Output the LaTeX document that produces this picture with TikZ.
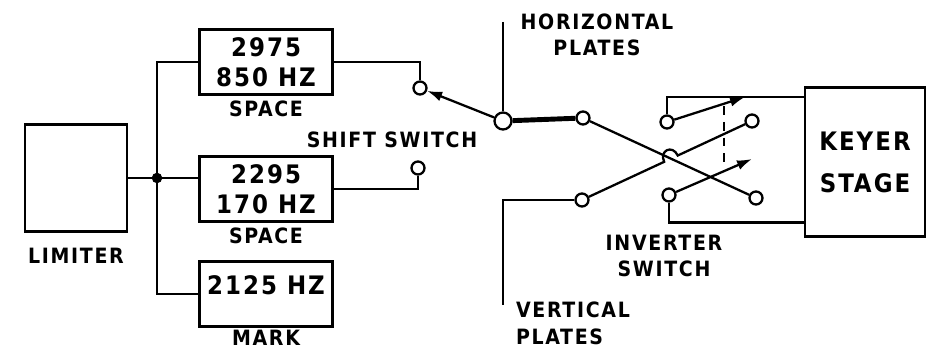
\documentclass[tikz,border=0pt]{standalone}
\usepackage{fontspec}
\newfontfamily\hand{DejaVu Sans Condensed}[LetterSpace=8]
\usepackage{tikz}
\usetikzlibrary{positioning,arrows.meta,calc}
\tikzset{
  unit/.style={draw, line width=1.3pt, align=center, font=\hand\bfseries\fontsize{14.5}{17}\selectfont},
  filter/.style={unit, minimum width=2.66cm, minimum height=1.3cm},
  contact/.style={circle, draw, line width=1.3pt, fill=white, minimum size=2.6mm, inner sep=0pt},
  caption/.style={align=center, inner sep=1pt, font=\hand\bfseries\fontsize{12}{15}\selectfont},
  wire/.style={line width=1.3pt},
  blade/.style={line width=1.3pt, -{Latex[length=3mm, width=2mm]}},
  gang/.style={line width=1.3pt, dash pattern=on 5pt off 4pt},
}

\begin{document}
\begin{tikzpicture}[x=0.02cm, y=-0.02cm]
  \useasboundingbox (0,0) rectangle (929,354);

  % limiter and the three filters
  \node[unit, minimum width=2.04cm, minimum height=2.14cm] (limiter) at (76,178) {};
  \node[caption] (limiterlbl) [below=0.27cm of limiter] {LIMITER};
  \node[filter] (wide) at (266,62) {2975\\850 HZ};
  \node[caption] (widelbl) [below=0.06cm of wide] {SPACE};
  \node[filter] (narrow) at (266,189) {2295\\170 HZ};
  \node[caption] (narrowlbl) [below=0.06cm of narrow] {SPACE};
  \node[filter, text depth=0.35cm] (mark) at (266,294) {2125 HZ};
  \node[caption, inner sep=0.5pt] (marklbl) [below=0.03cm of mark] {MARK};

  % input bus
  \coordinate (jct) at (157,178);
  \draw[wire] (limiter) -- (jct) -- (narrow.west |- jct);
  \draw[wire] (wide.west) -| (jct) |- (mark.west);
  \fill (jct) circle (3pt);

  % shift switch
  \node[contact] (sw850) at (420,88) {};
  \node[contact] (sw170) at (418,168) {};
  \node[contact, minimum size=3.4mm] (hpivot) at (503,121) {};
  \node[caption] (shiftlbl) at (392,140) {SHIFT SWITCH};
  \draw[wire] (wide.east) -| (sw850);
  \draw[wire] (narrow.east) -| (sw170);
  \draw[blade] (hpivot) -- (sw850);

  % deflection plates
  \coordinate (htop) at (503,22);
  \coordinate (vbot) at (503,305);
  \node[caption] (hlbl) at (597,35) {HORIZONTAL\\PLATES};
  \node[caption, align=left, anchor=north west] (vlbl) at (514,300) {VERTICAL\\PLATES};
  \draw[wire] (htop) -- (hpivot);

  % inverter switch
  \node[contact] (hin) at (583,118) {};
  \node[contact] (vin) at (582,200) {};
  \node[contact] (invhi) at (752,121) {};
  \node[contact] (invlo) at (756,198) {};
  \draw[line width=2.8pt] (hpivot) -- (hin);
  \draw[wire] (vin) -| (vbot);
  \draw[wire] (hin) -- (invlo);
  \coordinate (xing) at (intersection of hin--invlo and vin--invhi);
  \coordinate (hopa) at ($(xing)!0.15cm!(vin)$);
  \coordinate (hopb) at ($(xing)!0.15cm!(invhi)$);
  \draw[wire] (vin) -- (hopa) .. controls ($(hopa)!0.25cm!90:(xing)$) and ($(hopb)!0.25cm!-90:(xing)$) .. (hopb) -- (invhi);
  \node[caption] (invlbl) at (664,256) {INVERTER\\SWITCH};

  % keyer side
  \node[unit, minimum width=2.4cm, minimum height=2.98cm, font=\hand\bfseries\fontsize{14.5}{24}\selectfont] (keyer) at (865,162) {KEYER\\STAGE};
  \node[contact] (ka) at (667,122) {};
  \node[contact] (kb) at (669,195) {};
  \draw[wire] (ka) |- ($(keyer.north west)!0.07!(keyer.south west)$);
  \draw[wire] (kb) |- ($(keyer.north west)!0.9!(keyer.south west)$);
  \coordinate (katip) at (745,97);
  \coordinate (kbtip) at (752,159);
  \draw[blade] (ka) -- (katip);
  \draw[blade] (kb) -- (kbtip);
  \coordinate (gangtop) at (724,106);
  \coordinate (gangbot) at (724,168);
  \draw[gang] (gangtop) -- (gangbot);
\end{tikzpicture}
\end{document}
